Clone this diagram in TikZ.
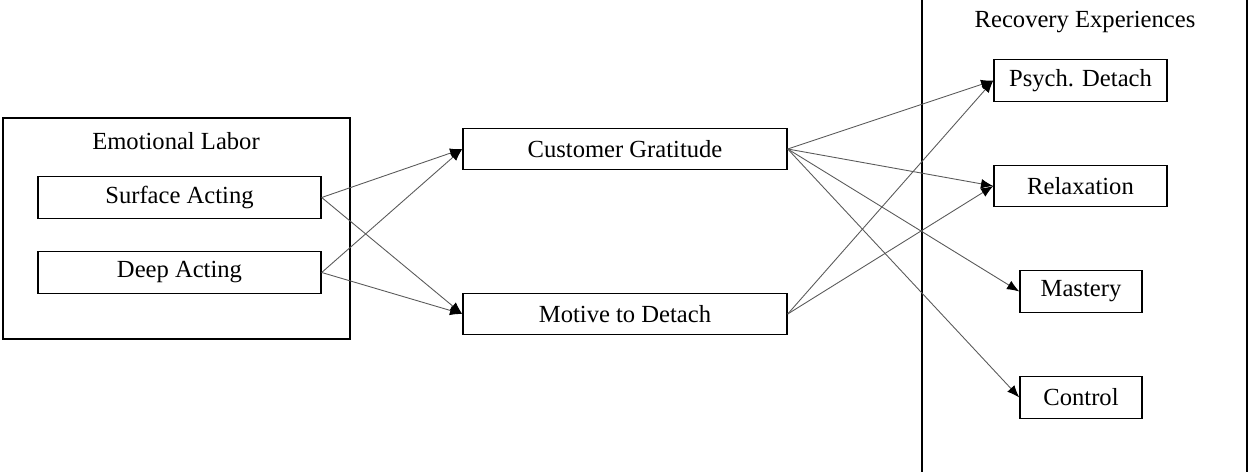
\documentclass[tikz,border=0pt]{standalone}
\usepackage{fontspec}
\setmainfont{Liberation Serif}
\usepackage{tikz}
\usetikzlibrary{arrows.meta}

\tikzset{
    box/.style={draw, line width=0.8pt, minimum height=0.83cm, inner sep=0pt,
        font=\fontsize{14}{16}\selectfont},
    path/.style={-{Latex[length=7pt, width=5.5pt, color=black]}, draw=black!65, line width=0.5pt}
}

\begin{document}
\begin{tikzpicture}
    \useasboundingbox (0, 0) rectangle (24.96, -9.44);
    % emotional labor
    \draw [line width=0.8pt] (0.06, -2.36) rectangle (7.0, -6.78);
    \node  (0) at (3.52, -2.82) {\fontsize{14}{16}\selectfont Emotional Labor};
    \node [box, minimum width=5.66cm] (1) at (3.59, -3.95) {Surface Acting};
    \node [box, minimum width=5.66cm] (2) at (3.59, -5.45) {Deep Acting};
    % mediators
    \node [box, minimum width=6.48cm] (3) at (12.5, -2.98) {Customer Gratitude};
    \node [box, minimum width=6.48cm] (4) at (12.5, -6.28) {Motive to Detach};
    % recovery experiences
    \draw [line width=0.8pt] (18.44, 0) to (18.44, -9.44);
    \draw [line width=0.8pt] (24.94, 0) to (24.94, -9.44);
    \node  (5) at (21.7, -0.44) {\fontsize{14}{16}\selectfont Recovery Experiences};
    \node [box, minimum width=3.46cm] (6) at (21.61, -1.61) {Psych. Detach};
    \node [box, minimum width=3.46cm] (7) at (21.61, -3.72) {Relaxation};
    \node [box, minimum width=2.44cm] (8) at (21.62, -5.83) {Mastery};
    \node [box, minimum width=2.44cm] (9) at (21.62, -7.95) {Control};
    % paths
    \draw [path] (1.east) to (3.west);
    \draw [path] (1.east) to (4.west);
    \draw [path] (2.east) to (3.west);
    \draw [path] (2.east) to (4.west);
    \draw [path] (3.east) to (6.west);
    \draw [path] (3.east) to (7.west);
    \draw [path] (3.east) to (8.west);
    \draw [path] (3.east) to (9.west);
    \draw [path] (4.east) to (6.west);
    \draw [path] (4.east) to (7.west);
\end{tikzpicture}
\end{document}
